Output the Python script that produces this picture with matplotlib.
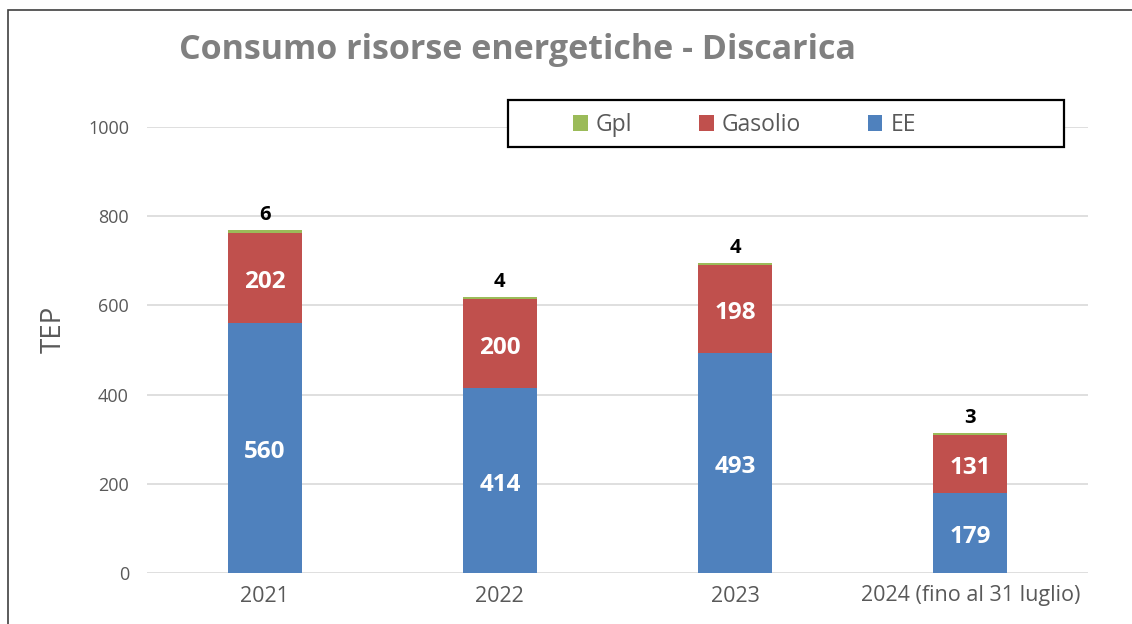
import matplotlib
matplotlib.use("Agg")
import matplotlib.pyplot as plt
from matplotlib.patches import Rectangle
from matplotlib.transforms import offset_copy

categories = ["2021", "2022", "2023", "2024 (fino al 31 luglio)"]
ee = [560, 414, 493, 179]
gasolio = [202, 200, 198, 131]
gpl = [6, 4, 4, 3]

C_EE = "#4F81BD"
C_GAS = "#C0504D"
C_GPL = "#9BBB59"
GRAY = "#595959"

plt.rcParams['font.family'] = ['Open Sans', 'DejaVu Sans']

fig = plt.figure(figsize=(11.32, 6.24), dpi=100)
ax = fig.add_axes([147/1132, 1-573/624, (1088-147)/1132, (573-127)/624])

x = list(range(len(categories)))
w = 0.315
b_ee = ax.bar(x, ee, w, color=C_EE, label="EE", zorder=3)
b_gas = ax.bar(x, gasolio, w, bottom=ee, color=C_GAS, label="Gasolio", zorder=3)
bot2 = [a + b for a, b in zip(ee, gasolio)]
b_gpl = ax.bar(x, gpl, w, bottom=bot2, color=C_GPL, label="Gpl", zorder=3)

lab_tr = offset_copy(ax.transData, fig=fig, x=0, y=-4, units="dots")
for i in x:
    ax.text(i, ee[i] / 2, str(ee[i]), ha="center", va="center", color="white",
            fontsize=17.5, fontweight="bold", zorder=4, transform=lab_tr)
    ax.text(i, ee[i] + gasolio[i] / 2, str(gasolio[i]), ha="center", va="center",
            color="white", fontsize=17.5, fontweight="bold", zorder=4, transform=lab_tr)
    ax.text(i, bot2[i] + gpl[i] + 12, str(gpl[i]), ha="center", va="bottom",
            color="black", fontsize=14.5, fontweight="bold", zorder=4)

ax.set_xlim(-0.5, len(categories) - 0.5)
ax.set_ylim(0, 1000)
ax.set_yticks([0, 200, 400, 600, 800, 1000])
ax.set_xticks(x)
ax.set_xticklabels(categories)
ax.tick_params(axis="both", length=0, colors=GRAY)
ax.tick_params(axis="y", labelsize=13, pad=13)
ax.tick_params(axis="x", labelsize=15.5, pad=9)
ax.grid(axis="y", color="#d9d9d9", linewidth=1.2, zorder=0)
for s in ax.spines.values():
    s.set_visible(False)

ax.set_ylabel("TEP", fontsize=20, color=GRAY)
ax.yaxis.set_label_coords((68 - 147) / 941, (573 - 329) / 446)

# legend frame
frame = Rectangle(((508 - 147) / 941, (573 - 147) / 446), (1064 - 508) / 941, 47 / 446,
                  transform=ax.transAxes, fill=True, facecolor="white",
                  edgecolor="black", linewidth=1.6, clip_on=False, zorder=5)
ax.add_patch(frame)

handles = [b_gpl, b_gas, b_ee]
leg = ax.legend(handles, ["Gpl", "Gasolio", "EE"], ncol=3, loc="center left",
                bbox_to_anchor=((573 - 147) / 941, (573 - 125) / 446),
                frameon=False, fontsize=16.5, handlelength=0.65,
                handleheight=0.65, columnspacing=2.9, handletextpad=0.35,
                borderpad=0, borderaxespad=0, labelcolor=GRAY)
leg.set_zorder(6)

fig.text(517/1132, 1-50/624, "Consumo risorse energetiche - Discarica",
         ha="center", va="center", fontsize=24.5, fontweight="bold", color="#808080")

border = Rectangle((8/1132, -0.1), 1.2, 1-10/624 + 0.1, transform=fig.transFigure,
                   fill=False, edgecolor="#404040", linewidth=1.2, clip_on=False)
fig.patches.append(border)

fig.savefig("out.png", dpi=100)
